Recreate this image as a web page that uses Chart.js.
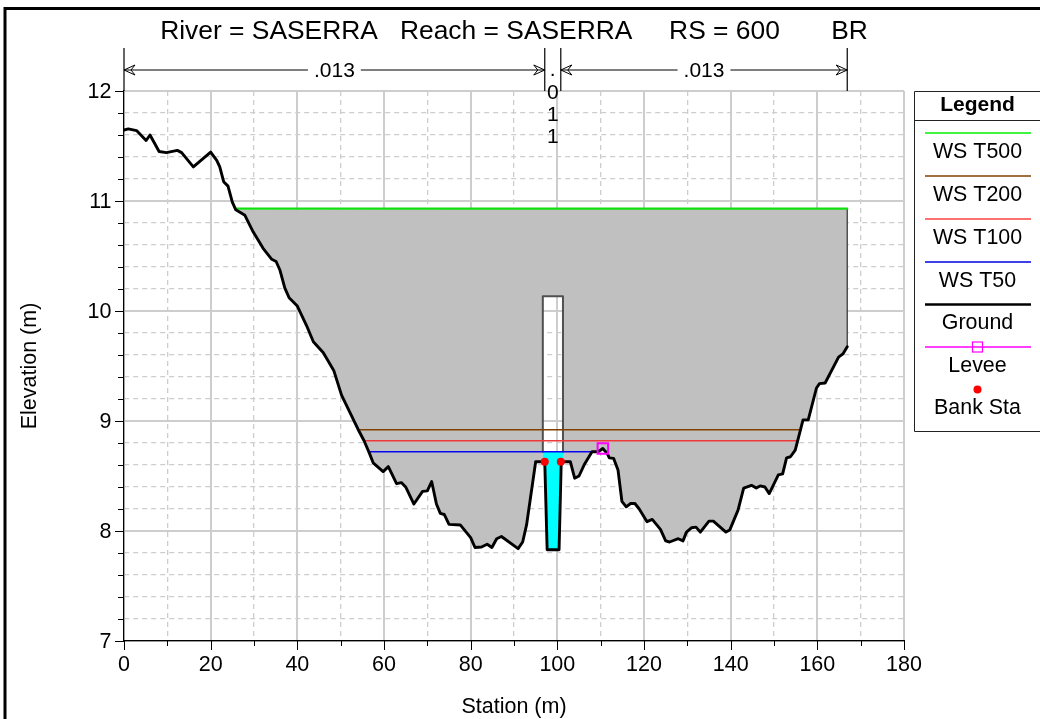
<!DOCTYPE html>
<html><head><meta charset="utf-8">
<style>html,body{margin:0;padding:0;background:#fff}canvas{display:block}</style>
<script src="https://cdn.jsdelivr.net/npm/chart.js@4"></script></head>
<body><div style="width:1040px;height:719px;position:relative"><canvas id="c"></canvas></div>
<script>
const chartTitle = 'River = SASERRA   Reach = SASERRA     RS = 600       BR';
const groundStation = [0,1,2.9,5.1,6,8.1,9.8,12.3,13.3,16,20,21.4,22.1,23,24,25,25.8,27.9,29.8,32.1,34.1,35.1,36,37.1,38.1,40,42.1,43.7,46,48.4,50.2,54,55.4,56.6,57.5,59.8,61,62.9,64,65,66.9,68.9,70,71,72.1,73,73.9,75,77.6,80,81,82.5,83.8,84.9,86,87.1,90.95,92,92.9,95,97.1,97.65,100.4,100.9,103,104,105,106.3,108,109.4,110.5,111.5,112,113,114,114.9,115.9,116.9,117.9,118.9,120.7,121.9,123.8,125,125.9,127.9,129,129.8,131,132,133,135,136,138.9,139.8,141.7,143,144.8,145.9,146.8,147.9,148.9,151,152,152.9,153.8,154.9,156.7,157.9,159.8,160.5,161.8,164.9,165.9,166.9];
const groundElevation = [11.645,11.655,11.64,11.55,11.6,11.45,11.44,11.46,11.44,11.31,11.445,11.37,11.31,11.175,11.135,10.99,10.92,10.87,10.72,10.57,10.47,10.45,10.37,10.21,10.12,10.045,9.87,9.72,9.62,9.46,9.235,8.925,8.82,8.71,8.62,8.54,8.585,8.43,8.44,8.4,8.245,8.36,8.365,8.45,8.245,8.16,8.15,8.06,8.055,7.94,7.85,7.855,7.88,7.85,7.93,7.95,7.84,7.9,8.055,8.63,8.63,7.83,7.83,8.63,8.63,8.48,8.5,8.61,8.72,8.72,8.75,8.705,8.665,8.66,8.555,8.27,8.22,8.25,8.25,8.2,8.085,8.105,8.015,7.91,7.9,7.93,7.91,7.99,8.03,8.035,7.99,8.09,8.09,7.99,8.01,8.19,8.39,8.415,8.39,8.41,8.4,8.34,8.51,8.52,8.665,8.675,8.735,9.01,9.01,9.3,9.34,9.345,9.58,9.61,9.675];
const wsNames = ['WS T500','WS T200','WS T100','WS T50'];
const wsLevels = [10.93,8.92,8.82,8.72];
const wsStart = [25.8,54,55.4,56.6];
const wsEnd = [166.9,156.3,155.6,109.4];
const wsColors = ['#10e010','#804000','#f03838','#0808f0'];
const bankStations = [97.1,100.8];
const bankElevation = 8.63;
const deckStations = [96.65,101.3];
const deckTop = 10.135;
const waterLevel = 8.72;
const leveeStations = [110.5];
const leveeElevations = [8.75];
const manningBreaks = [0,97.1,100.8,166.9];
const manningValues = ['.013','.011','.013'];
const xMin=0,xMax=180,xMinor=10,xMajor=20,yMin=7,yMax=12,yMinor=0.2;
const legendLabels = ['WS T500','WS T200','WS T100','WS T50','Ground','Levee','Bank Sta'];

const ground = groundStation.map((x,i)=>({x,y:groundElevation[i]}));
const topLevel = wsLevels[0];
const grayLeft = [...ground.filter(p=>p.x>=wsStart[0]&&p.x<=deckStations[0]),{x:deckStations[0],y:bankElevation},{x:deckStations[0],y:topLevel}];
const grayRight = [{x:deckStations[1],y:topLevel},{x:deckStations[1],y:bankElevation},...ground.filter(p=>p.x>=deckStations[1]),{x:wsEnd[0],y:topLevel}];
const grayTop = [{x:deckStations[0]-0.5,y:topLevel},{x:deckStations[1]+0.5,y:topLevel},{x:deckStations[1]+0.5,y:deckTop},{x:deckStations[0]-0.5,y:deckTop}];
const water = [{x:deckStations[0],y:waterLevel},{x:deckStations[1],y:waterLevel},{x:deckStations[1],y:bankElevation},...ground.filter(p=>p.x>=bankStations[0]&&p.x<=bankStations[1]+0.2).reverse(),{x:deckStations[0],y:bankElevation}];
const deck = [{x:deckStations[0],y:waterLevel},{x:deckStations[0],y:deckTop},{x:deckStations[1],y:deckTop},{x:deckStations[1],y:waterLevel}];
const poly=(label,data,color)=>({label,data,showLine:true,fill:'shape',backgroundColor:color,borderWidth:0,borderColor:color,pointRadius:0});
const line=(label,data,color,w)=>({label,data,showLine:true,fill:false,borderColor:color,borderWidth:w,pointRadius:0,borderJoinStyle:'round',borderCapStyle:'round'});

const list = [
 poly('fill left',grayLeft,'#c0c0c0'),
 poly('fill right',grayRight,'#c0c0c0'),
 poly('fill top',grayTop,'#c0c0c0'),
 poly('water',water,'#00ffff'),
 line('edge',[{x:wsEnd[0],y:ground[ground.length-1].y},{x:wsEnd[0],y:topLevel}],'#303030',1.2),
 line('deck',deck,'#505050',2),
 ...wsNames.map((n,i)=>line(n,[{x:wsStart[i],y:wsLevels[i]},{x:wsEnd[i],y:wsLevels[i]}],wsColors[i],i===0?2.2:1.6)),
 line('Ground',ground,'#000000',2.9),
 {label:'Levee',data:leveeStations.map((x,i)=>({x,y:leveeElevations[i]})),showLine:false,pointStyle:'rect',pointRadius:7.4,pointBorderColor:'#ff00ff',pointBackgroundColor:'rgba(0,0,0,0)',pointBorderWidth:2},
 {label:'Bank Sta',data:bankStations.map(x=>({x,y:bankElevation})),showLine:false,pointStyle:'circle',pointRadius:4,pointBorderWidth:0,pointBackgroundColor:'#ff0000'}
];
list.forEach((d,i)=>{d.order=list.length-i;});

const FONT='"Liberation Sans",Arial,sans-serif';
const isInt=v=>Math.abs(v-Math.round(v))<1e-6;
const isXMajor=v=>Math.abs(v/xMajor-Math.round(v/xMajor))<1e-6;
const GRID='#cdcdcd';

const deco={id:'deco',
 beforeDraw(ch){const c=ch.ctx;c.save();c.fillStyle='#fff';c.fillRect(0,0,ch.width,ch.height);
  c.strokeStyle='#000';c.lineWidth=3;c.beginPath();c.moveTo(5,ch.height);c.lineTo(5,8.5);c.lineTo(ch.width,8.5);c.stroke();c.restore();},
 afterDraw(ch){const c=ch.ctx,X=ch.scales.x,Y=ch.scales.y,a=ch.chartArea;c.save();
  c.strokeStyle='#000';c.lineWidth=1;c.beginPath();
  X.ticks.forEach(t=>{const p=Math.round(X.getPixelForValue(t.value))+.5;c.moveTo(p,a.bottom);c.lineTo(p,a.bottom+(isXMajor(t.value)?9:5));});
  Y.ticks.forEach(t=>{const p=Math.round(Y.getPixelForValue(t.value))+.5;c.moveTo(a.left,p);c.lineTo(a.left-(isInt(t.value)?9:6),p);});
  c.stroke();
  const top=48,ay=70;c.font='21px '+FONT;c.textAlign='center';c.textBaseline='middle';c.fillStyle='#000';
  const px=manningBreaks.map(v=>X.getPixelForValue(v));
  c.lineWidth=1.2;c.beginPath();px.forEach(p=>{c.moveTo(p,top);c.lineTo(p,a.top);});c.stroke();
  const arrow=(x,dir)=>{c.moveTo(x+dir*11,ay-5);c.lineTo(x,ay);c.lineTo(x+dir*11,ay+5);c.moveTo(x+dir*11,ay-5);c.lineTo(x+dir*7,ay);c.lineTo(x+dir*11,ay+5);};
  c.lineWidth=1;
  [0,2].forEach(i=>{const l=px[i],r=px[i+1],m=(l+r)/2,w=c.measureText(manningValues[i]).width/2+6;
   c.beginPath();c.moveTo(l,ay);c.lineTo(m-w,ay);c.moveTo(m+w,ay);c.lineTo(r,ay);arrow(l,1);arrow(r,-1);c.stroke();
   c.fillText(manningValues[i],m,ay+1);});
  const mid=(px[1]+px[2])/2;[...manningValues[1]].forEach((ch2,i)=>c.fillText(ch2,mid,[70,93.5,115,137][i]));
  const lx=914.5,cx=977.5,l0=925,l1=1031;
  c.strokeStyle='#222';c.lineWidth=1;c.fillStyle='#fff';c.beginPath();c.rect(lx,91.5,ch.width,340);c.fill();c.stroke();
  c.beginPath();c.moveTo(lx,120.5);c.lineTo(ch.width,120.5);c.stroke();
  c.fillStyle='#000';c.font='bold 21px '+FONT;c.fillText('Legend',cx,105);
  c.font='21.4px '+FONT;
  const ly=[133,176,219,262,304.5,347],ty=[152,195,238,281,323,366,408];
  legendLabels.forEach((t,i)=>{c.fillStyle='#000';c.fillText(t,cx,ty[i]);});
  const cols=['#00f000',wsColors[1],'#ff4040','#0000e0','#000','#ff00ff'];
  ly.forEach((y,i)=>{c.strokeStyle=cols[i];c.lineWidth=i===4?2.5:1.5;c.beginPath();c.moveTo(l0,y);c.lineTo(l1,y);c.stroke();});
  c.strokeStyle='#ff00ff';c.lineWidth=1.2;c.strokeRect(cx-5,342,10,10);
  c.fillStyle='#ff0000';c.beginPath();c.arc(cx,389.5,4,0,7);c.fill();
  c.restore();}
};

new Chart(document.getElementById('c'),{type:'scatter',data:{datasets:list},plugins:[deco],options:{
 responsive:true,maintainAspectRatio:false,animation:false,
 layout:{padding:{left:0,top:0,right:136,bottom:0}},
 plugins:{legend:{display:false},tooltip:{enabled:false},
  title:{display:true,fullSize:false,text:chartTitle,color:'#000',font:{family:FONT,size:26.4,weight:'normal',lineHeight:1.2},padding:{top:16,bottom:43.3}}},
 scales:{
  x:{type:'linear',min:xMin,max:xMax,afterFit(s){s.height=78;},
   grid:{drawTicks:false,color:GRID,lineWidth:c=>isXMajor(c.tick.value)?2:1.3},
   border:{color:'#000',width:1.2,dash:c=>c.tick&&!isXMajor(c.tick.value)?[5,4]:[]},
   ticks:{stepSize:xMinor,autoSkip:false,maxRotation:0,padding:11.5,color:'#000',font:{family:FONT,size:21.5},callback:v=>isXMajor(v)?String(Math.round(v)):''},
   title:{display:true,text:'Station (m)',color:'#000',font:{family:FONT,size:21.5,lineHeight:1.1},padding:{top:0,bottom:0}}},
  y:{type:'linear',min:yMin,max:yMax,afterFit(s){s.width=124;},
   grid:{drawTicks:false,color:GRID,lineWidth:c=>isInt(c.tick.value)?2:1.3},
   border:{color:'#000',width:1.2,dash:c=>c.tick&&!isInt(c.tick.value)?[5,4]:[]},
   ticks:{stepSize:yMinor,autoSkip:false,padding:12.5,labelOffset:1.5,color:'#000',font:{family:FONT,size:21.5},callback:v=>isInt(v)?String(Math.round(v)):''},
   title:{display:true,text:'Elevation (m)',color:'#000',font:{family:FONT,size:21.5},padding:{top:17.5,bottom:0}}}
 }}});
</script></body></html>
